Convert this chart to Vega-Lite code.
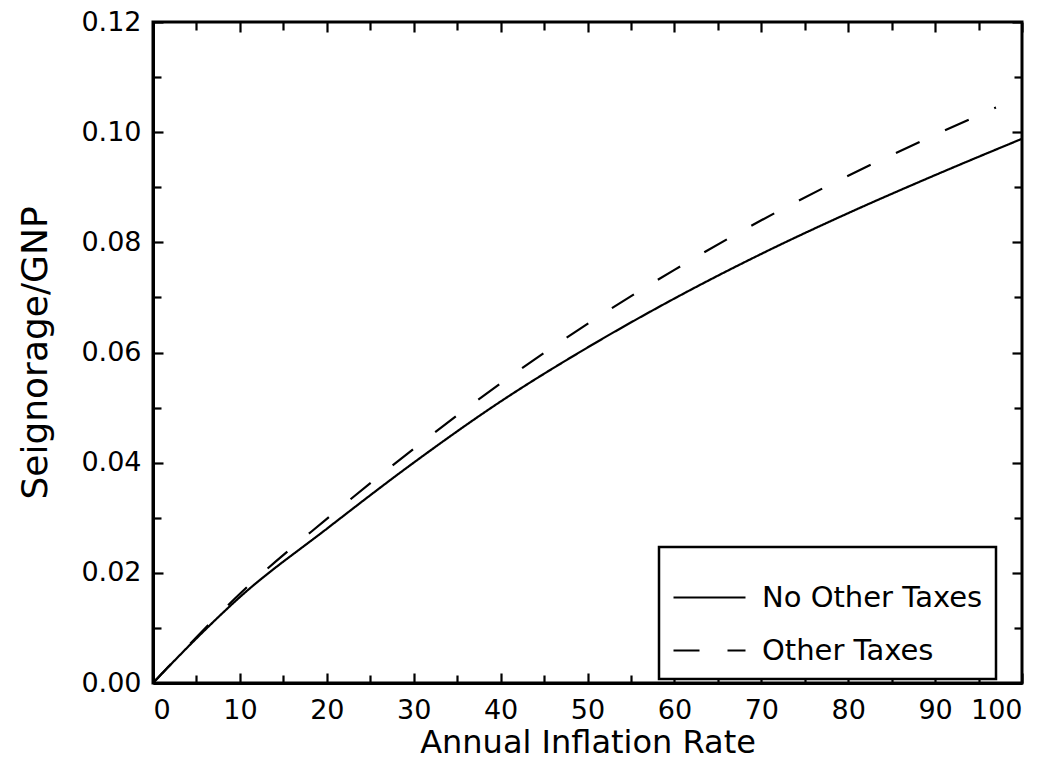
{
  "$schema": "https://vega.github.io/schema/vega-lite/v6.json",
  "width": 869,
  "height": 661,
  "autosize": {"type": "none"},
  "padding": {"left": 153, "top": 22, "right": 35, "bottom": 82},
  "background": "white",
  "config": {
    "view": {"stroke": "black", "strokeWidth": 3},
    "axis": {
      "grid": false,
      "domainColor": "black",
      "domainWidth": 3,
      "tickColor": "black",
      "tickWidth": 2.2,
      "labelColor": "black",
      "titleColor": "black",
      "labelFont": "DejaVu Sans",
      "titleFont": "DejaVu Sans",
      "titleFontWeight": "normal",
      "labelOverlap": false
    }
  },
  "data": {
    "values": [
      {"inflation": 0, "seignorage": 0, "series": "No Other Taxes"},
      {"inflation": 5, "seignorage": 0.0081, "series": "No Other Taxes"},
      {"inflation": 10, "seignorage": 0.0156, "series": "No Other Taxes"},
      {"inflation": 20, "seignorage": 0.028, "series": "No Other Taxes"},
      {"inflation": 30, "seignorage": 0.040, "series": "No Other Taxes"},
      {"inflation": 40, "seignorage": 0.0511, "series": "No Other Taxes"},
      {"inflation": 50, "seignorage": 0.0609, "series": "No Other Taxes"},
      {"inflation": 60, "seignorage": 0.0698, "series": "No Other Taxes"},
      {"inflation": 70, "seignorage": 0.0779, "series": "No Other Taxes"},
      {"inflation": 80, "seignorage": 0.0853, "series": "No Other Taxes"},
      {"inflation": 90, "seignorage": 0.0922, "series": "No Other Taxes"},
      {"inflation": 100, "seignorage": 0.0988, "series": "No Other Taxes"},
      {"inflation": 0, "seignorage": 0, "series": "Other Taxes"},
      {"inflation": 5, "seignorage": 0.0083, "series": "Other Taxes"},
      {"inflation": 10, "seignorage": 0.0162, "series": "Other Taxes"},
      {"inflation": 20, "seignorage": 0.0298, "series": "Other Taxes"},
      {"inflation": 30, "seignorage": 0.0425, "series": "Other Taxes"},
      {"inflation": 40, "seignorage": 0.0544, "series": "Other Taxes"},
      {"inflation": 50, "seignorage": 0.0652, "series": "Other Taxes"},
      {"inflation": 60, "seignorage": 0.0750, "series": "Other Taxes"},
      {"inflation": 70, "seignorage": 0.0840, "series": "Other Taxes"},
      {"inflation": 80, "seignorage": 0.0921, "series": "Other Taxes"},
      {"inflation": 90, "seignorage": 0.0995, "series": "Other Taxes"},
      {"inflation": 97, "seignorage": 0.1045, "series": "Other Taxes"}
    ]
  },
  "layer": [
    {
      "mark": {"type": "line", "color": "black", "strokeWidth": 2.2, "interpolate": "monotone"},
      "encoding": {
        "x": {
          "field": "inflation", "type": "quantitative",
          "scale": {"domain": [0, 100], "nice": false},
          "axis": {
            "orient": "bottom",
            "values": [0, 5, 10, 15, 20, 25, 30, 35, 40, 45, 50, 55, 60, 65, 70, 75, 80, 85, 90, 95, 100],
            "labelExpr": "datum.value % 10 === 0 ? datum.label : ''",
            "tickSize": {"condition": {"test": "datum.value % 10 === 0", "value": -10}, "value": -8},
            "labelPadding": 24,
            "labelFontSize": 27,
            "title": "Annual Inflation Rate",
            "titleFontSize": 32,
            "titlePadding": 2
          }
        },
        "y": {
          "field": "seignorage", "type": "quantitative",
          "scale": {"domain": [0, 0.12], "nice": false},
          "axis": {
            "orient": "left",
            "values": [0, 0.01, 0.02, 0.03, 0.04, 0.05, 0.06, 0.07, 0.08, 0.09, 0.1, 0.11, 0.12],
            "format": ".2f",
            "labelExpr": "round(datum.value * 100) % 2 === 0 ? datum.label : ''",
            "tickSize": {"condition": {"test": "round(datum.value * 100) % 2 === 0", "value": -10}, "value": -8},
            "labelPadding": 22,
            "labelFontSize": 27,
            "title": "Seignorage/GNP",
            "titleFontSize": 36,
            "titlePadding": 26
          }
        },
        "strokeDash": {
          "field": "series", "type": "nominal",
          "scale": {"domain": ["No Other Taxes", "Other Taxes"], "range": [[1, 0], [26, 28]]},
          "legend": {
            "title": null,
            "orient": "none",
            "legendX": 506,
            "legendY": 525,
            "direction": "vertical",
            "symbolType": "stroke",
            "symbolSize": 5184,
            "symbolStrokeWidth": 2.2,
            "symbolStrokeColor": "black",
            "labelFont": "DejaVu Sans",
            "labelFontSize": 29,
            "labelColor": "black",
            "labelLimit": 400,
            "labelOffset": 15,
            "strokeColor": "black",
            "fillColor": "white",
            "padding": 13,
            "rowPadding": -30,
            "encode": {"legend": {"update": {"strokeWidth": {"value": 2.5}}}}
          }
        }
      }
    },
    {
      "mark": {"type": "line", "opacity": 0},
      "encoding": {
        "x": {
          "field": "inflation", "type": "quantitative",
          "axis": {
            "orient": "top",
            "values": [0, 5, 10, 15, 20, 25, 30, 35, 40, 45, 50, 55, 60, 65, 70, 75, 80, 85, 90, 95, 100],
            "labels": false,
            "domain": false,
            "title": null,
            "tickSize": {"condition": {"test": "datum.value % 10 === 0", "value": -10}, "value": -8}
          }
        },
        "y": {
          "field": "seignorage", "type": "quantitative",
          "axis": {
            "orient": "right",
            "values": [0, 0.01, 0.02, 0.03, 0.04, 0.05, 0.06, 0.07, 0.08, 0.09, 0.1, 0.11, 0.12],
            "labels": false,
            "domain": false,
            "title": null,
            "tickSize": {"condition": {"test": "round(datum.value * 100) % 2 === 0", "value": -10}, "value": -8}
          }
        }
      }
    }
  ]
}
